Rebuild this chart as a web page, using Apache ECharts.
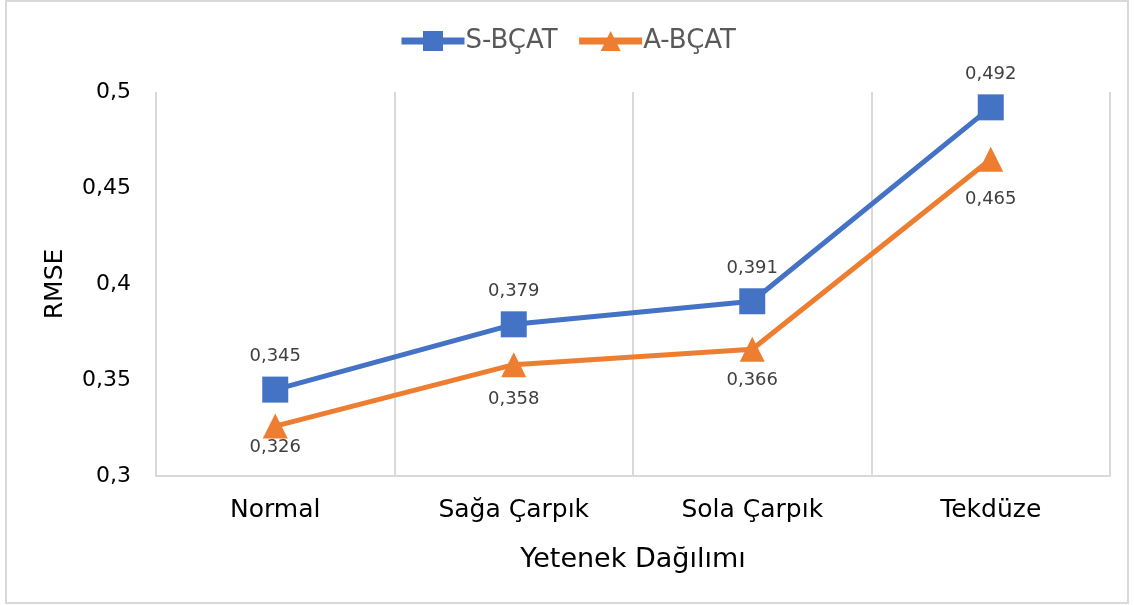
<!DOCTYPE html>
<html>
<head>
<meta charset="utf-8">
<script src="https://cdn.jsdelivr.net/npm/echarts@6/dist/echarts.min.js"></script>
<style>
  html, body { margin: 0; padding: 0; background: #fff; }
  #chart { width: 1134px; height: 605px; }
</style>
</head>
<body>
<div id="chart"></div>
<script>
// veriler
const categories = ['Normal', 'Sağa Çarpık', 'Sola Çarpık', 'Tekdüze'];
const sBcat = [0.345, 0.379, 0.391, 0.492];
const aBcat = [0.326, 0.358, 0.366, 0.465];

// A-BÇAT etiketlerinin noktaya uzaklığı (orijinalde elle kaydırılmış)
const aLabelGap = [0, 13, 10, 19];

const fmt = v => String(v).replace('.', ',');
const FONT = 'DejaVu Sans, Arial, sans-serif';

const chart = echarts.init(document.getElementById('chart'));

chart.setOption({
  animation: false,
  textStyle: { fontFamily: FONT },
  graphic: [{
    type: 'rect',
    shape: { x: 6, y: 1, width: 1122, height: 602 },
    style: { fill: 'none', stroke: '#d9d9d9', lineWidth: 2 },
    silent: true
  }],
  legend: {
    top: 23,
    left: 'center',
    itemWidth: 63,
    itemHeight: 25,
    itemGap: 18,
    lineStyle: { width: 7 },
    textStyle: { fontSize: 26, color: '#595959', fontFamily: FONT, padding: [0, 0, 0, -4] },
    data: ['S-BÇAT', 'A-BÇAT']
  },
  grid: { left: 156, right: 24, top: 92, bottom: 129 },
  xAxis: {
    type: 'category',
    data: categories,
    name: 'Yetenek Dağılımı',
    nameLocation: 'middle',
    nameGap: 70,
    nameTextStyle: { fontSize: 27, color: '#000', fontFamily: FONT },
    axisLine: { lineStyle: { color: '#d9d9d9', width: 2 } },
    axisTick: { show: false },
    axisLabel: { fontSize: 25, color: '#000', margin: 22, fontFamily: FONT },
    splitLine: { show: true, lineStyle: { color: '#d9d9d9', width: 2 } }
  },
  yAxis: {
    type: 'value',
    min: 0.3,
    max: 0.5,
    interval: 0.05,
    name: 'RMSE',
    nameLocation: 'middle',
    nameGap: 88,
    nameTextStyle: { fontSize: 25, color: '#000', fontFamily: FONT },
    axisLine: { show: false },
    axisTick: { show: false },
    axisLabel: { fontSize: 22, color: '#000', margin: 25, fontFamily: FONT, formatter: v => fmt(+v.toFixed(2)) },
    splitLine: { show: false }
  },
  series: [
    {
      name: 'S-BÇAT',
      type: 'line',
      data: sBcat,
      symbol: 'rect',
      symbolSize: 26,
      color: '#4472C4',
      lineStyle: { width: 5, color: '#4472C4' },
      label: { show: true, position: 'top', distance: 11, fontSize: 18, color: '#404040', fontFamily: FONT, formatter: p => fmt(p.value) }
    },
    {
      name: 'A-BÇAT',
      type: 'line',
      data: aBcat.map((v, i) => ({ value: v, label: { distance: aLabelGap[i] } })),
      symbol: 'triangle',
      symbolSize: 25,
      color: '#ED7D31',
      lineStyle: { width: 5, color: '#ED7D31' },
      label: { show: true, position: 'bottom', fontSize: 18, color: '#404040', fontFamily: FONT, formatter: p => fmt(p.value) }
    }
  ]
});
</script>
</body>
</html>
